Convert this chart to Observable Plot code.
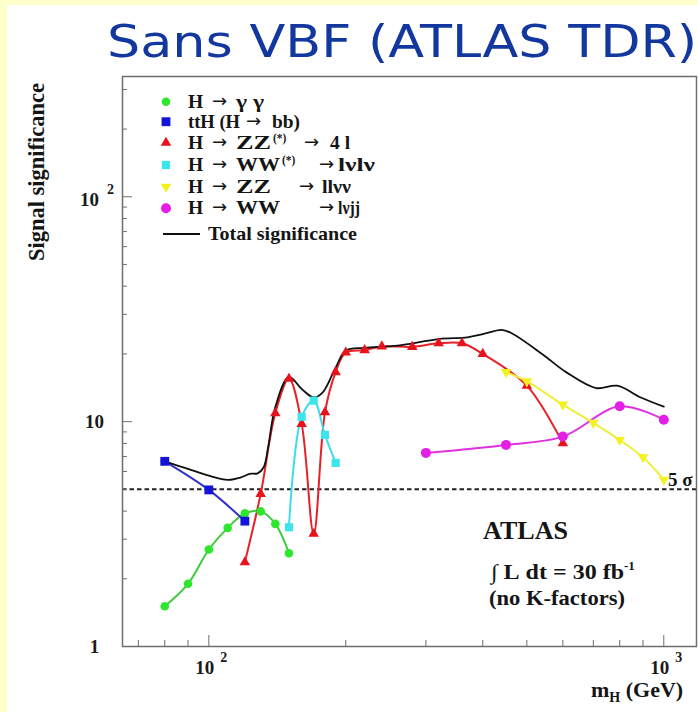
<!DOCTYPE html>
<html><head><meta charset="utf-8">
<script src="https://cdn.jsdelivr.net/npm/d3@7"></script>
<script src="https://cdn.jsdelivr.net/npm/@observablehq/plot@0.6"></script>
<style>
html,body{margin:0;padding:0;}
body{width:698px;height:712px;background:#FFFFCC;position:relative;overflow:hidden;}
#panel{position:absolute;left:7px;top:5px;right:0;bottom:0;background:#fff;}
#chart{position:absolute;left:0;top:0;}
#title{position:absolute;left:107px;top:20px;font-family:"DejaVu Sans";font-size:44px;line-height:1;color:#1238A0;white-space:nowrap;transform-origin:0 0;transform:scaleX(1.19);}
</style></head>
<body><div id="panel"></div><div id="chart"></div><div id="title">Sans VBF (ATLAS TDR)</div>
<script>
// ---- data (m_H in GeV, signal significance) ----
const mass_gg = [80, 90, 100, 110, 120, 130, 140, 150];
const sig_gg = [1.51, 1.90, 2.70, 3.37, 3.91, 3.99, 3.51, 2.60];
const mass_ttH = [80, 100, 120];
const sig_ttH = [6.66, 4.97, 3.61];
const mass_ZZ4l = [120, 130, 140, 150, 160, 170, 180, 190, 200, 220, 240, 280, 320, 360, 400, 500, 600];
const sig_ZZ4l = [2.37, 4.77, 10.9, 15.5, 9.77, 3.17, 11.0, 16.6, 20.3, 20.8, 21.6, 21.5, 22.3, 22.3, 20.0, 14.45, 8.01];
const mass_WWlnln = [150, 160, 170, 180, 190];
const sig_WWlnln = [3.39, 10.5, 12.4, 8.73, 6.55];
const mass_ZZllnn = [450, 500, 600, 700, 800, 900, 1000];
const sig_ZZllnn = [16.6, 15.1, 11.9, 9.87, 8.29, 6.94, 5.52];
const mass_WWlnjj = [300, 450, 600, 800, 1000];
const sig_WWlnjj = [7.26, 7.88, 8.58, 11.7, 10.2];
const mass_total = [80, 90, 100, 110, 118, 123, 128, 132, 135, 140, 150, 160, 170, 178, 190, 200, 220, 260, 320, 370, 400, 440, 460, 540, 610, 710, 790, 890, 1000];
const sig_total = [6.66, 6.16, 5.75, 5.51, 5.66, 5.86, 5.89, 6.27, 7.69, 11.6, 15.8, 13.97, 12.8, 13.5, 17.4, 20.7, 21.3, 21.8, 23.3, 23.7, 24.5, 25.6, 24.9, 20.0, 16.6, 14.1, 14.45, 12.8, 11.66];
const discoveryLevel = [5];

const xMajorTicks = [100, 1000];
const xMinorTicks = [70, 80, 90, 200, 300, 400, 500, 600, 700, 800, 900];
const xTickBase = ["10", "10"];
const xTickSup = ["2", "3"];
const yMajorTicks = [10, 100];
const yMinorTicks = [2, 3, 4, 5, 6, 7, 8, 9, 20, 30, 40, 50, 60, 70, 80, 90, 200, 300];
const yPlainLabelVals = [1, 10];
const yPlainLabels = ["1", "10"];
const yExpLabelVals = [100];
const yExpBase = ["10"];
const yExpSup = ["2"];

// ---- styling ----
const symbolTriangleDown = {
  draw(context, size) {
    const s = Math.sqrt(size * 4 / Math.sqrt(3));
    const h = s * Math.sqrt(3) / 2;
    context.moveTo(0, h * 2 / 3);
    context.lineTo(s / 2, -h / 3);
    context.lineTo(-s / 2, -h / 3);
    context.closePath();
  }
};
const series = [
  {name: "gg",     mass: mass_gg,     sig: sig_gg,     fill: "#2EE62E", line: "#3DCC3D", symbol: "circle",   r: 4.3},
  {name: "ttH",    mass: mass_ttH,    sig: sig_ttH,    fill: "#1414D8", line: "#3232C8", symbol: "square",   r: 5.0},
  {name: "ZZ4l",   mass: mass_ZZ4l,   sig: sig_ZZ4l,   fill: "#E8121C", line: "#E82028", symbol: "triangle", r: 3.9},
  {name: "WWlnln", mass: mass_WWlnln, sig: sig_WWlnln, fill: "#3CE4EE", line: "#3CDCEA", symbol: "square",   r: 4.6},
  {name: "ZZllnn", mass: mass_ZZllnn, sig: sig_ZZllnn, fill: "#F2F21E", line: "#EEEE3A", symbol: symbolTriangleDown, r: 3.9},
  {name: "WWlnjj", mass: mass_WWlnjj, sig: sig_WWlnjj, fill: "#E41EE4", line: "#E030E0", symbol: "circle",   r: 5.0}
];
const rowsOf = (mass, sig) => mass.map((m, i) => ({m, v: sig[i]}));
const totalRows = rowsOf(mass_total, sig_total);

const W = 698, H = 712, mL = 122, mR = 2, mT = 76, mB = 66;
const plotW = W - mL - mR, plotH = H - mT - mB;
const axisGray = "#6e6e6e";
const FONT = "Liberation Serif";

const marks = [
  Plot.ruleY(discoveryLevel, {stroke: "#222", strokeWidth: 2, strokeDasharray: "4.5,3"}),
  ...series.map(s => Plot.line(rowsOf(s.mass, s.sig), {x: "m", y: "v", stroke: s.line, strokeWidth: 2, curve: "catmull-rom"})),
  Plot.line(totalRows, {x: "m", y: "v", stroke: "#111", strokeWidth: 1.8, curve: "catmull-rom"}),
  ...series.map(s => Plot.dot(rowsOf(s.mass, s.sig), {x: "m", y: "v", fill: s.fill, stroke: "none", symbol: s.symbol, r: s.r})),
  // inward ticks
  Plot.tickY(yMajorTicks, {y: d => d, insetRight: plotW - 10, stroke: axisGray, strokeWidth: 1}),
  Plot.tickY(yMinorTicks, {y: d => d, insetRight: plotW - 5, stroke: axisGray, strokeWidth: 1}),
  Plot.tickX(xMajorTicks, {x: d => d, insetTop: plotH - 11, stroke: axisGray, strokeWidth: 1}),
  Plot.tickX(xMinorTicks, {x: d => d, insetTop: plotH - 6, stroke: axisGray, strokeWidth: 1}),
  Plot.frame({stroke: axisGray, strokeWidth: 1.5}),
  // tick labels
  Plot.text(yPlainLabelVals, {y: d => d, text: (d, i) => yPlainLabels[i], frameAnchor: "left", dx: -28, textAnchor: "middle", fontSize: 19, fontWeight: "bold", fill: "#1a1a1a"}),
  Plot.text(yExpLabelVals, {y: d => d, text: (d, i) => yExpBase[i], frameAnchor: "left", dx: -33, dy: 3, textAnchor: "middle", fontSize: 19, fontWeight: "bold", fill: "#1a1a1a"}),
  Plot.text(yExpLabelVals, {y: d => d, text: (d, i) => yExpSup[i], frameAnchor: "left", dx: -12, dy: -7, textAnchor: "middle", fontSize: 14, fontWeight: "bold", fill: "#1a1a1a"}),
  Plot.text(xMajorTicks, {x: d => d, text: (d, i) => xTickBase[i], frameAnchor: "bottom", dx: -4, dy: 27, textAnchor: "middle", fontSize: 19, fontWeight: "bold", fill: "#1a1a1a"}),
  Plot.text(xMajorTicks, {x: d => d, text: (d, i) => xTickSup[i], frameAnchor: "bottom", dx: 15, dy: 15, textAnchor: "middle", fontSize: 14, fontWeight: "bold", fill: "#1a1a1a"})
];

const svg = Plot.plot({
  width: W, height: H,
  marginLeft: mL, marginRight: mR, marginTop: mT, marginBottom: mB,
  x: {type: "log", domain: [64.6, 1180], axis: null},
  y: {type: "log", domain: [1, 342.6], axis: null},
  style: {background: "transparent", fontFamily: FONT, overflow: "visible"},
  marks
});
document.getElementById("chart").appendChild(svg);

// ---- decorations: axis titles, legend, annotations ----
const g = d3.select(svg).append("g").attr("font-family", FONT).attr("font-weight", "bold")
  .attr("fill", "#151515").attr("text-anchor", "start");

g.append("text").attr("transform", "translate(44,172) rotate(-90)").attr("text-anchor", "middle")
  .attr("font-size", 22.5).text("Signal significance");

const xt = g.append("text").attr("x", 591).attr("y", 697).attr("font-size", 22);
xt.append("tspan").text("m");
xt.append("tspan").attr("font-size", 14).attr("dy", 5).text("H");
xt.append("tspan").attr("dy", -5).text("\u00A0(GeV)");

// legend
const ARROW = "\u2192";
const legendRows = [
  {y: 101.7, s: 0, parts: [[188, "H"], [212, ARROW], [236, "\u03B3\u00A0\u03B3", null, 28]]},
  {y: 121.7, s: 1, parts: [[188, "ttH\u00A0(H", null, 52], [246, ARROW], [272, "bb)", null, 28]]},
  {y: 142.7, s: 2, parts: [[188, "H"], [212, ARROW], [236, "ZZ", null, 35], [273, "(*)", "sup"], [304, ARROW], [330, "4\u00A0l"]]},
  {y: 165.0, s: 3, parts: [[188, "H"], [212, ARROW], [236, "WW", null, 44], [282, "(*)", "sup"], [319, ARROW], [338, "l\u03BDl\u03BD", null, 37]]},
  {y: 186.7, s: 4, parts: [[188, "H"], [212, ARROW], [236, "ZZ", null, 35], [299, ARROW], [322, "ll\u03BD\u03BD", null, 29]]},
  {y: 208.3, s: 5, parts: [[188, "H"], [212, ARROW], [236, "WW", null, 44], [319, ARROW], [338, "l\u03BDjj", null, 22]]}
];
const symType = s => s === "circle" ? d3.symbolCircle : s === "square" ? d3.symbolSquare : s === "triangle" ? d3.symbolTriangle : s;
legendRows.forEach(row => {
  const s = series[row.s];
  g.append("path").attr("transform", `translate(166,${row.y})`)
    .attr("d", d3.symbol(symType(s.symbol), Math.PI * s.r * s.r)()).attr("fill", s.fill);
  row.parts.forEach(([x, t, kind, len]) => {
    const el = g.append("text").attr("x", x).text(t);
    if (kind === "sup") el.attr("y", row.y - 1).attr("font-size", 11.5);
    else if (t === ARROW) el.attr("y", row.y + 5).attr("font-size", 18).attr("font-family", "DejaVu Sans").attr("font-weight", "normal");
    else el.attr("y", row.y + 6).attr("font-size", 19.5);
    if (len) el.attr("textLength", len).attr("lengthAdjust", "spacingAndGlyphs");
  });
});
g.append("line").attr("x1", 163).attr("x2", 200).attr("y1", 234).attr("y2", 234).attr("stroke", "#111").attr("stroke-width", 1.8);
g.append("text").attr("x", 208).attr("y", 240).attr("font-size", 19.5).attr("textLength", 149).attr("lengthAdjust", "spacingAndGlyphs").text("Total significance");

// 5 sigma label
g.append("text").attr("x", 668).attr("y", 486).attr("font-size", 19).text("5\u00A0\u03C3");

// ATLAS annotation
g.append("text").attr("x", 483).attr("y", 539).attr("font-size", 25).attr("textLength", 85).attr("lengthAdjust", "spacingAndGlyphs").text("ATLAS");
const lum = g.append("text").attr("x", 491).attr("y", 579).attr("font-size", 21);
lum.append("tspan").attr("textLength", 133).attr("lengthAdjust", "spacingAndGlyphs").text("\u222B\u00A0L\u00A0dt\u00A0=\u00A030\u00A0fb");
lum.append("tspan").attr("font-size", 13).attr("dy", -9).text("-1");
g.append("text").attr("x", 489).attr("y", 605).attr("font-size", 20).attr("textLength", 136).attr("lengthAdjust", "spacingAndGlyphs").text("(no K-factors)");
</script></body></html>
